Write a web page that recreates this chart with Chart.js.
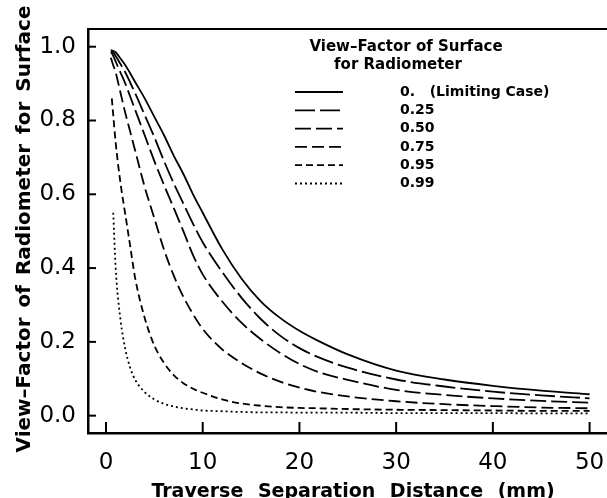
<!DOCTYPE html>
<html>
<head>
<meta charset="utf-8">
<script src="https://cdn.jsdelivr.net/npm/chart.js@4/dist/chart.umd.min.js"></script>
<style>
html,body{margin:0;padding:0;background:#fff;}
canvas{display:block;}
</style>
</head>
<body>
<canvas id="c" width="607" height="498"></canvas>
<script>
// Traverse separation distance (mm)
const xs = [0.5,0.6,0.75,1,1.5,2,2.5,3,4,5,6,7,8,9,10,12,14,16,18,20,22,25,30,35,40,45,50];
// View-factor of radiometer for surface, one array per surface view-factor
const vf000 = [0.99,0.99,0.988,0.985,0.968,0.95,0.928,0.905,0.86,0.81,0.76,0.705,0.655,0.60,0.55,0.452,0.372,0.31,0.265,0.23,0.202,0.166,0.122,0.098,0.081,0.068,0.058];
const vf025 = [0.99,0.988,0.984,0.975,0.953,0.93,0.903,0.875,0.815,0.755,0.69,0.63,0.575,0.52,0.47,0.39,0.32,0.262,0.217,0.183,0.158,0.13,0.098,0.079,0.065,0.055,0.047];
const vf050 = [0.985,0.982,0.975,0.96,0.93,0.90,0.865,0.83,0.76,0.69,0.625,0.563,0.50,0.435,0.383,0.31,0.252,0.207,0.17,0.14,0.118,0.097,0.07,0.056,0.047,0.04,0.035];
const vf075 = [0.97,0.962,0.95,0.93,0.875,0.82,0.77,0.72,0.62,0.535,0.45,0.38,0.322,0.275,0.235,0.18,0.143,0.114,0.092,0.076,0.064,0.052,0.039,0.031,0.026,0.022,0.02];
const vf095 = [null,0.86,0.815,0.74,0.63,0.545,0.46,0.375,0.265,0.19,0.143,0.11,0.088,0.073,0.062,0.044,0.033,0.027,0.023,0.021,0.02,0.018,0.016,0.015,0.014,0.013,0.013];
const vf099 = [null,null,0.55,0.40,0.26,0.18,0.13,0.098,0.064,0.044,0.032,0.025,0.02,0.017,0.014,0.012,0.01,0.009,0.009,0.008,0.008,0.008,0.007,0.007,0.007,0.006,0.006];
const seriesLabels = ['0.   (Limiting Case)','0.25','0.50','0.75','0.95','0.99'];
const seriesValues = [vf000, vf025, vf050, vf075, vf095, vf099];
const seriesDashes = [[], [20,5], [16,5], [12,5], [7,4], [2,3]];
const xTickValues = [0,10,20,30,40,50];
const yTickValues = [0.0,0.2,0.4,0.6,0.8,1.0];
const legendTitle = ['View\u2013Factor of Surface','for Radiometer'];
const xTitle = 'Traverse Separation Distance (mm)';
const yTitle = 'View\u2013Factor of Radiometer for Surface';

const FONT = "'DejaVu Sans', sans-serif";

const datasets = seriesValues.map((arr, i) => ({
  label: seriesLabels[i],
  data: xs.map((x, j) => ({x: x, y: arr[j]})).filter(p => p.y !== null),
  borderColor: '#000',
  borderWidth: 1.8,
  borderDash: seriesDashes[i],
  pointRadius: 0,
  fill: false,
  cubicInterpolationMode: 'monotone'
}));

const decor = {
  id: 'decor',
  afterDraw(chart) {
    const ctx = chart.ctx;
    const a = chart.chartArea;
    const xs_ = chart.scales.x, ys_ = chart.scales.y;
    ctx.save();
    ctx.strokeStyle = '#000';
    ctx.setLineDash([]);
    // top frame line
    ctx.lineWidth = 2;
    ctx.beginPath();
    ctx.moveTo(a.left, a.top);
    ctx.lineTo(a.right, a.top);
    ctx.stroke();
    // inward tick marks
    ctx.lineWidth = 2;
    xTickValues.forEach(v => {
      const px = xs_.getPixelForValue(v);
      ctx.beginPath();
      ctx.moveTo(px, a.bottom);
      ctx.lineTo(px, a.bottom - 11);
      ctx.stroke();
    });
    yTickValues.forEach(v => {
      const py = ys_.getPixelForValue(v);
      ctx.beginPath();
      ctx.moveTo(a.left, py);
      ctx.lineTo(a.left + 8, py);
      ctx.stroke();
    });
    ctx.fillStyle = '#000';
    // axis titles
    ctx.font = 'bold 19px ' + FONT;
    ctx.textAlign = 'center';
    ctx.textBaseline = 'alphabetic';
    ctx.wordSpacing = '8px';
    ctx.fillText(xTitle, 353, 497);
    ctx.save();
    ctx.translate(30, 229);
    ctx.rotate(-Math.PI / 2);
    ctx.font = 'bold 20px ' + FONT;
    ctx.wordSpacing = '3px';
    ctx.fillText(yTitle, 0, 0);
    ctx.restore();
    ctx.wordSpacing = '0px';
    // legend
    ctx.font = 'bold 15px ' + FONT;
    ctx.textAlign = 'center';
    ctx.textBaseline = 'middle';
    ctx.fillText(legendTitle[0], 406, 47);
    ctx.fillText(legendTitle[1], 398, 65);
    ctx.font = 'bold 14px ' + FONT;
    ctx.textAlign = 'left';
    chart.data.datasets.forEach((ds, i) => {
      const y = 92 + i * 18.3;
      ctx.setLineDash(ds.borderDash);
      ctx.lineWidth = ds.borderWidth;
      ctx.beginPath();
      ctx.moveTo(295, y);
      ctx.lineTo(343, y);
      ctx.stroke();
      ctx.setLineDash([]);
      ctx.fillText(ds.label, 400, y);
    });
    ctx.restore();
  }
};

new Chart(document.getElementById('c'), {
  type: 'line',
  data: { datasets: datasets },
  options: {
    responsive: false,
    animation: false,
    layout: { padding: { top: 29, right: 0, left: 0, bottom: 0 } },
    plugins: { legend: { display: false }, tooltip: { enabled: false } },
    scales: {
      x: {
        type: 'linear',
        min: -1.86,
        max: 51.8,
        afterBuildTicks: s => { s.ticks = xTickValues.map(v => ({value: v})); },
        afterFit: s => { s.height = 65; s.paddingRight = 0; s.paddingLeft = 0; },
        grid: { display: false },
        border: { display: true, color: '#000', width: 2.5 },
        ticks: { color: '#000', font: { family: FONT, size: 23 }, padding: 8, maxRotation: 0, autoSkip: false, callback: v => String(v) },
        title: { display: false }
      },
      y: {
        type: 'linear',
        min: -0.047,
        max: 1.048,
        afterBuildTicks: s => { s.ticks = yTickValues.map(v => ({value: v})); },
        afterFit: s => { s.width = 88; },
        grid: { display: false },
        border: { display: true, color: '#000', width: 2.5 },
        ticks: { color: '#000', font: { family: FONT, size: 23 }, padding: 4, autoSkip: false, callback: v => Number(v).toFixed(1) },
        title: { display: false }
      }
    }
  },
  plugins: [decor]
});
</script>
</body>
</html>
